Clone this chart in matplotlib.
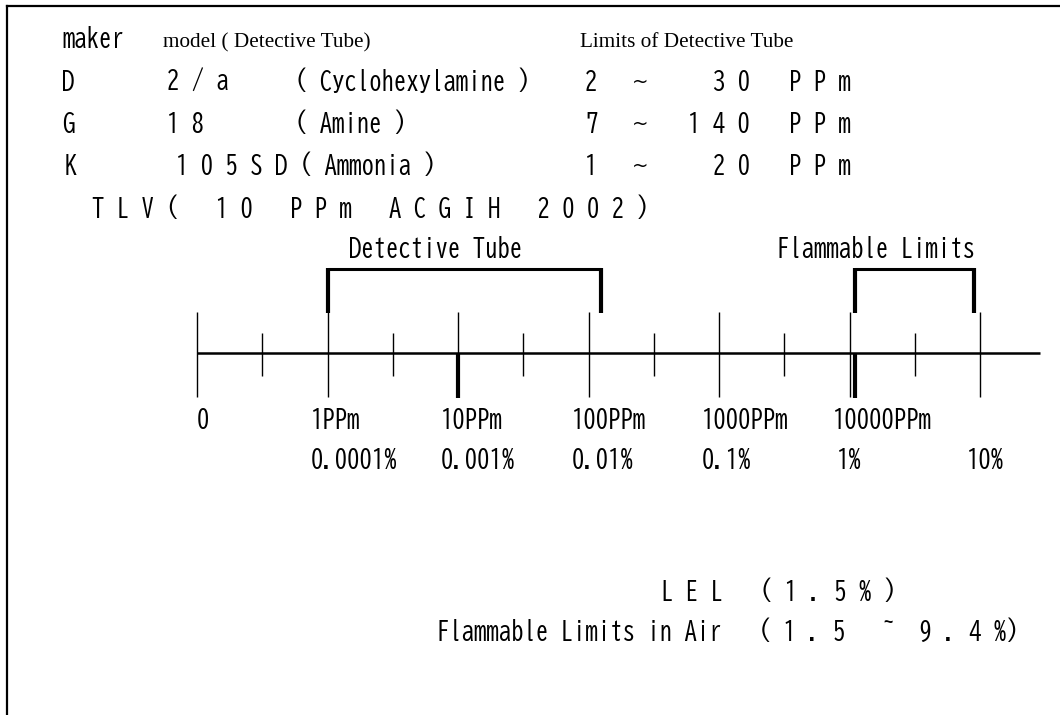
import numpy as np
import matplotlib
matplotlib.use("Agg")
import matplotlib.pyplot as plt
from matplotlib import font_manager
from matplotlib.font_manager import FontProperties

# detector tube table
makers = ['D', 'G', 'K']
models = ['2 / a', '1 8', '1 0 5 S D ( Ammonia )']
gases = ['( Cyclohexylamine )', '( Amine )', '']
range_lo = ['2', '7', '1']
range_hi = ['3 0', '1 4 0', '2 0']

# log scale (ppm); 0.1 ppm is the position labelled "0"
major_ppm = [0.1, 1, 10, 100, 1000, 10000, 100000]
minor_ppm = [0.316, 3.16, 31.6, 316, 3162, 31623]
ppm_labels = ['0', '1PPm', '10PPm', '100PPm', '1000PPm', '10000PPm']
pct_ppm = [1, 10, 100, 1000, 10000, 100000]
pct_labels = ['0.0001%', '0.001%', '0.01%', '0.1%', '1%', '10%']

tlv_ppm = 10
lel_ppm = 11000            # thick mark as drawn, just right of 1 %
tube_range = (1, 125)      # detective tube bracket, as drawn
flam_range = (11000, 90000)

# half-width monospace look (like MS Gothic)
avail = {f.name for f in font_manager.fontManager.ttflist}
mono = next(f for f in ['BIZ UDGothic', 'M PLUS 1 Code', 'Liberation Mono', 'DejaVu Sans Mono']
            if f in avail)
plt.rcParams['font.family'] = [mono, 'DejaVu Sans Mono']

fig = plt.figure(figsize=(10.6, 7.15), dpi=100)
ax = fig.add_axes([0, 0, 1, 1])
ax.set_xlim(0, 1060)
ax.set_ylim(715, 0)
ax.axis('off')

# pick the size that gives ~12.4 px per character
r = fig.canvas.get_renderer()
fp = FontProperties(family=mono, size=10)
w1 = r.get_text_width_height_descent('0' * 10, fp, ismath=False)[0]
w2 = r.get_text_width_height_descent('0' * 30, fp, ismath=False)[0]
fs = 10 * 12.4 / ((w2 - w1) / 20)

# frame (left and top only)
ax.plot([7, 7], [715, 6], color='black', lw=1.6)
ax.plot([7, 1060], [6, 6], color='black', lw=1.6)

serif = dict(fontsize=15.3, family='Liberation Serif', va='baseline')
ax.text(62, 47, 'maker', fontsize=fs, va='baseline')
ax.text(163, 47, 'model ( Detective Tube)', **serif)
ax.text(580, 47, 'Limits of Detective Tube', **serif)

row_y = [90, 132, 174]
model_x = [167, 167, 176]
hi_x = [713, 688, 713]
for i in range(3):
    y = row_y[i]
    ax.text(62 + (3 if i == 2 else 0), y, makers[i], fontsize=fs, va='baseline')
    ax.text(model_x[i], y, models[i], fontsize=fs, va='baseline')
    if gases[i]:
        ax.text(295, y, gases[i], fontsize=fs, va='baseline')
    ax.text(585, y, range_lo[i], fontsize=fs, va='baseline')
    ax.text(640, y - 8, '~', fontsize=fs * 0.8, family='DejaVu Sans',
            va='center', ha='center')
    ax.text(hi_x[i], y, range_hi[i], fontsize=fs, va='baseline')
    ax.text(789, y, 'P P m', fontsize=fs, va='baseline')

ax.text(92, 217, 'T L V (   1 0   P P m   A C G I H   2 0 0 2 )', fontsize=fs,
        va='baseline')

# scale axes
x0 = 197
dec = 130.5
sc = fig.add_axes([0, 0, 1, 1])
sc.set_xscale('log')
sc.set_xlim(0.1 * 10 ** (-x0 / dec), 0.1 * 10 ** ((1060 - x0) / dec))
sc.set_ylim(715, 0)
sc.axis('off')

sc.hlines(353, 0.1, 2.9e5, color='black', lw=1.8)
sc.vlines(major_ppm, 312, 397, color='black', lw=1.0)
sc.vlines(minor_ppm, 333, 376, color='black', lw=1.0)
sc.vlines([tlv_ppm, lel_ppm], 353, 398, color='black', lw=3)

for lo, hi in [tube_range, flam_range]:
    sc.plot([lo, hi], [269, 269], color='black', lw=2.2, solid_capstyle='butt')
    sc.vlines([lo, hi], 268, 313, color='black', lw=3)

ax.text(436, 257, 'Detective Tube', fontsize=fs, ha='center', va='baseline')
ax.text(876, 257, 'Flammable Limits', fontsize=fs, ha='center', va='baseline')

for i, lab in enumerate(ppm_labels):
    off = 0 if i == 0 else -17
    sc.annotate(lab, (major_ppm[i], 428), xytext=(off, 0), textcoords='offset pixels',
                fontsize=fs, va='baseline', ha='left')
for i, lab in enumerate(pct_labels):
    off = -13 if i >= 4 else -17
    sc.annotate(lab, (pct_ppm[i], 468), xytext=(off, 0), textcoords='offset pixels',
                fontsize=fs, va='baseline', ha='left')

ax.text(661, 600, 'L E L   ( 1 . 5 % )', fontsize=fs, va='baseline')
ax.text(437, 640, 'Flammable Limits in Air   ( 1 . 5   ~  9 . 4 %)', fontsize=fs,
        va='baseline')

fig.savefig('out.png', dpi=100, facecolor='white')
